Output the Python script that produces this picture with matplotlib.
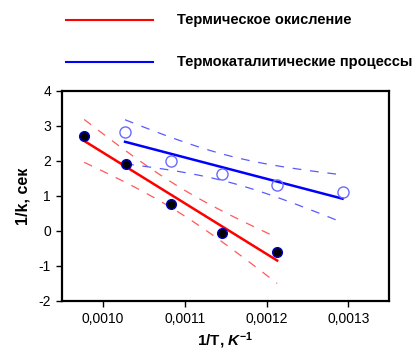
import numpy as np
import matplotlib
matplotlib.use("Agg")
import matplotlib.pyplot as plt
from matplotlib.lines import Line2D
from matplotlib.ticker import FuncFormatter

plt.rcParams['font.family'] = ['Liberation Sans', 'DejaVu Sans']
plt.rcParams['mathtext.fontset'] = 'custom'
plt.rcParams['mathtext.it'] = 'Liberation Sans:bold:italic'
plt.rcParams['mathtext.rm'] = 'Liberation Sans:bold'
plt.rcParams['mathtext.bf'] = 'Liberation Sans:bold'

# Data
x_thermal = [0.000977, 0.001028, 0.001083, 0.001145, 0.001213]
y_thermal = [2.71, 1.92, 0.77, -0.06, -0.60]
x_catal = [0.001027, 0.001083, 0.001145, 0.001213, 0.001293]
y_catal = [2.84, 2.01, 1.63, 1.31, 1.12]
label_thermal = "Термическое окисление"
label_catal = "Термокаталитические процессы"
xticks = [0.0010, 0.0011, 0.0012, 0.0013]
yticks = [-2, -1, 0, 1, 2, 3, 4]
T_CRIT = 3.182  # t(0.975, df=3)

fig = plt.figure(figsize=(4.14, 3.51), dpi=100)
ax = fig.add_axes([0.150, 0.1425, 0.790, 0.5985])


def fit_band(x, y):
    x = np.asarray(x); y = np.asarray(y)
    n = len(x)
    b, a = np.polyfit(x, y, 1)
    res = y - (a + b * x)
    s = np.sqrt(np.sum(res ** 2) / (n - 2))
    xs = np.linspace(x.min(), x.max(), 100)
    sxx = np.sum((x - x.mean()) ** 2)
    yhat = a + b * xs
    se = s * np.sqrt(1.0 / n + (xs - x.mean()) ** 2 / sxx)
    return xs, yhat, yhat - T_CRIT * se, yhat + T_CRIT * se


for xd, yd, c, cl in [(x_thermal, y_thermal, '#ff0000', '#ff5a5a'),
                      (x_catal, y_catal, '#0000ff', '#5a5aff')]:
    xs, yh, lo, hi = fit_band(xd, yd)
    ax.plot(xs, yh, color=c, lw=1.8, zorder=3)
    ax.plot(xs, lo, color=cl, lw=0.9, dashes=(7, 7), zorder=2)
    ax.plot(xs, hi, color=cl, lw=0.9, dashes=(7, 7), zorder=2)

ax.plot(x_thermal, y_thermal, 'o', ms=7, mfc='black', mec='#0000cc', mew=1.0, zorder=4)
ax.plot(x_catal, y_catal, 'o', ms=8, mfc='none', mec='#6a6aff', mew=1.0, zorder=4)

ax.set_xlim(0.00095, 0.00135)
ax.set_ylim(-2, 4)
ax.set_xticks(xticks)
ax.set_yticks(yticks)
ax.xaxis.set_major_formatter(FuncFormatter(lambda v, p: f"{v:.4f}".replace('.', ',')))
ax.yaxis.set_major_formatter(FuncFormatter(lambda v, p: f"{v:g}"))
ax.tick_params(axis='both', direction='out', length=4, width=1, labelsize=10, colors='black', pad=4)
for sp in ax.spines.values():
    sp.set_linewidth(1.6)

ax.set_ylabel("1/k, сек", fontsize=11.5, fontweight='bold', labelpad=6)
ax.set_xlabel(r"1/T, $K^{-1}$", fontsize=11, fontweight='bold', labelpad=3)

# Legend drawn at top of figure
fig.add_artist(Line2D([0.159, 0.370], [0.943, 0.943], color='#ff0000', lw=1.5, transform=fig.transFigure))
fig.add_artist(Line2D([0.159, 0.370], [0.823, 0.823], color='#0000ff', lw=1.5, transform=fig.transFigure))
fig.text(0.427, 0.943, label_thermal, fontsize=10.5, fontweight='bold', va='center', ha='left')
fig.text(0.427, 0.823, label_catal, fontsize=10.5, fontweight='bold', va='center', ha='left')

fig.savefig("out.png", dpi=100)
